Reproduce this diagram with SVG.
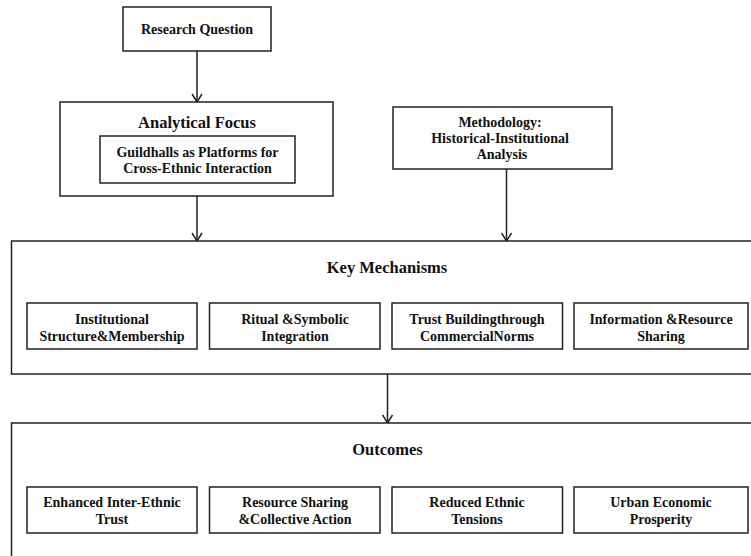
<svg xmlns="http://www.w3.org/2000/svg" width="751" height="556" viewBox="0 0 751 556">
<defs>
<style>
.box{fill:#fff;stroke:#222;stroke-width:1.5}
.t{font-family:"Liberation Serif","Times New Roman",serif;font-weight:bold;fill:#111;text-anchor:middle}
.s{font-size:14px}
.h{font-size:16.5px}
.c{stroke:#222;stroke-width:1.5;fill:none}
</style>
<marker id="arr" viewBox="0 0 12 12" refX="11" refY="6" markerWidth="12" markerHeight="12" markerUnits="userSpaceOnUse" orient="auto">
<path d="M3,1 L11,6 L3,11" fill="none" stroke="#222" stroke-width="1.5"/>
</marker>
</defs>
<rect width="751" height="556" fill="#fff"/>
<g id="connectors">
<line class="c" x1="197" y1="51" x2="197" y2="102" marker-end="url(#arr)"/>
<line class="c" x1="197" y1="196" x2="197" y2="241" marker-end="url(#arr)"/>
<line class="c" x1="506.5" y1="169" x2="506.5" y2="241" marker-end="url(#arr)"/>
<line class="c" x1="387.5" y1="374" x2="387.5" y2="423" marker-end="url(#arr)"/>
</g>
<g id="research-question">
<rect class="box" x="123" y="7" width="148" height="44"/>
<text class="t s" x="197" y="34">Research Question</text>
</g>
<g id="analytical-focus">
<rect class="box" x="60" y="102" width="273" height="94"/>
<text class="t h" x="197" y="128">Analytical Focus</text>
<g id="guildhalls">
<rect class="box" x="100" y="136" width="195" height="47"/>
<text class="t s" x="197.5" y="157">Guildhalls as Platforms for</text>
<text class="t s" x="197.5" y="173">Cross-Ethnic Interaction</text>
</g>
</g>
<g id="methodology">
<rect class="box" x="393" y="107" width="219" height="62"/>
<text class="t s" x="500" y="127">Methodology:</text>
<text class="t s" x="500" y="143">Historical-Institutional</text>
<text class="t s" x="502" y="159">Analysis</text>
</g>
<g id="key-mechanisms">
<rect class="box" x="11.5" y="241" width="760" height="133"/>
<text class="t h" x="387" y="273">Key Mechanisms</text>
<g id="km1">
<rect class="box" x="27" y="303" width="170" height="46"/>
<text class="t s" x="112" y="324">Institutional</text>
<text class="t s" x="112" y="341">Structure&amp;Membership</text>
</g>
<g id="km2">
<rect class="box" x="209.5" y="303" width="170.5" height="46"/>
<text class="t s" x="295" y="324">Ritual &amp;Symbolic</text>
<text class="t s" x="295" y="341">Integration</text>
</g>
<g id="km3">
<rect class="box" x="392" y="303" width="170.5" height="46"/>
<text class="t s" x="477" y="324">Trust Buildingthrough</text>
<text class="t s" x="477" y="341">CommercialNorms</text>
</g>
<g id="km4">
<rect class="box" x="574" y="303" width="174" height="46"/>
<text class="t s" x="661" y="324">Information &amp;Resource</text>
<text class="t s" x="661" y="341">Sharing</text>
</g>
</g>
<g id="outcomes">
<rect class="box" x="11.5" y="423" width="760" height="150"/>
<text class="t h" x="387.5" y="455">Outcomes</text>
<g id="o1">
<rect class="box" x="27" y="487" width="170" height="46"/>
<text class="t s" x="112" y="507">Enhanced Inter-Ethnic</text>
<text class="t s" x="112" y="524">Trust</text>
</g>
<g id="o2">
<rect class="box" x="209.5" y="487" width="170.5" height="46"/>
<text class="t s" x="295" y="507">Resource Sharing</text>
<text class="t s" x="295" y="524">&amp;Collective Action</text>
</g>
<g id="o3">
<rect class="box" x="392" y="487" width="170.5" height="46"/>
<text class="t s" x="477" y="507">Reduced Ethnic</text>
<text class="t s" x="477" y="524">Tensions</text>
</g>
<g id="o4">
<rect class="box" x="574" y="487" width="174" height="46"/>
<text class="t s" x="661" y="507">Urban Economic</text>
<text class="t s" x="661" y="524">Prosperity</text>
</g>
</g>
</svg>
